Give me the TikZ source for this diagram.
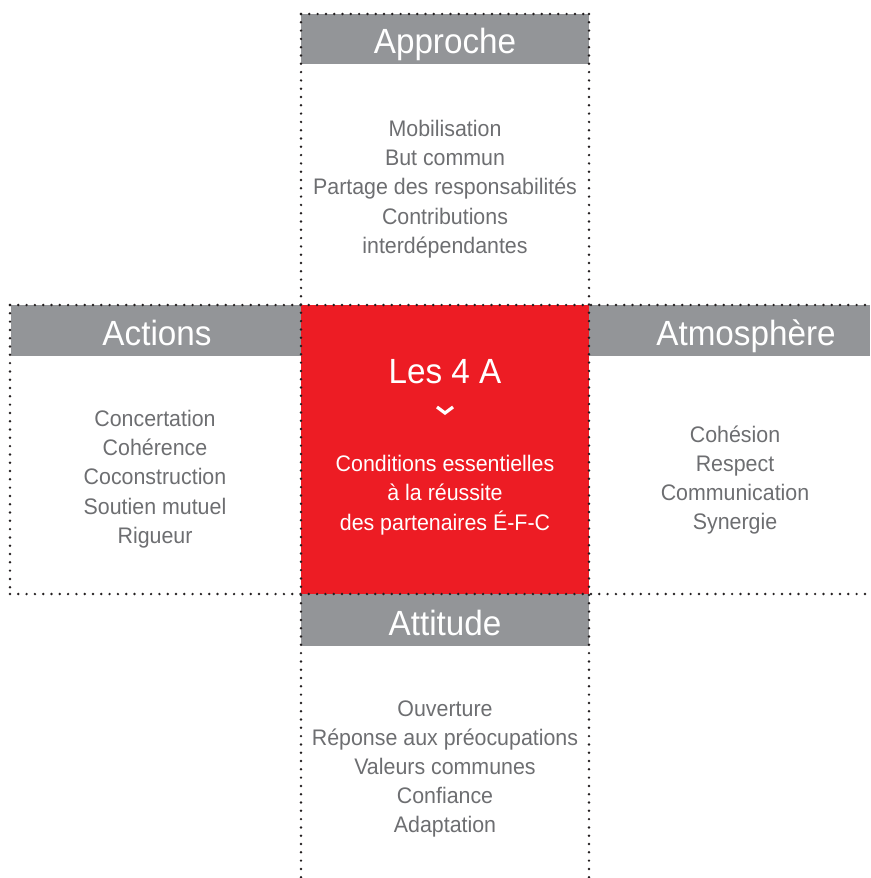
\documentclass[tikz,border=0pt]{standalone}
\usepackage{fontspec}
\setmainfont[FakeStretch=0.95]{Liberation Sans}
\definecolor{hdrgray}{HTML}{939598}
\definecolor{txtgray}{HTML}{6D6E71}
\definecolor{redsq}{HTML}{ED1C24}
\definecolor{dotcol}{HTML}{231F20}
\begin{document}
\begin{tikzpicture}[x=1pt,y=-1pt,
  dotline/.style={draw=dotcol,line width=2.7pt,line cap=round,dash pattern=on 0pt off 8.3pt},
  hdrtext/.style={text=white,font=\fontsize{35}{40}\selectfont,inner sep=0pt,anchor=base},
  bodytext/.style={text=txtgray,font=\fontsize{22.5}{29.2}\selectfont,align=center,inner sep=0pt},
  redtext/.style={text=white,font=\fontsize{22.5}{29.2}\selectfont,align=center,inner sep=0pt}]
\useasboundingbox (0,0) rectangle (870,878);
% fills
\fill[redsq] (301,305) rectangle (589,594);
\fill[hdrgray] (301,14) rectangle (589,64);
\fill[hdrgray] (11,305) rectangle (301,356);
\fill[hdrgray] (589,305) rectangle (870,356);
\fill[hdrgray] (301,594) rectangle (589,646);
% named corner coordinates
\coordinate (tl) at (301,14);
\coordinate (tr) at (589,14);
\coordinate (bl) at (301,878);
\coordinate (br) at (589,878);
\coordinate (ml1) at (10,305);
\coordinate (mr1) at (870,305);
\coordinate (ml2) at (10,594);
\coordinate (mr2) at (870,594);
% dotted lines
\draw[dotline] (tl) -- (tr);
\draw[dotline] (tl) -- (bl);
\draw[dotline] (tr) -- (br);
\draw[dotline] (ml1) -- (mr1);
\draw[dotline] (ml2) -- (mr2);
\draw[dotline] (ml1) -- (ml2);
% headers
\node[hdrtext] (happ) at (445,53) {Approche};
\node[hdrtext] (hact) at (157,345) {Actions};
\node[hdrtext] (hatm) at (746,345) {Atmosphère};
\node[hdrtext] (hatt) at (445,635) {Attitude};
% bodies
\node[bodytext] (bapp) at (445,189) {Mobilisation\\But commun\\Partage des responsabilités\\Contributions\\interdépendantes};
\node[bodytext] (bact) at (155,479) {Concertation\\Cohérence\\Coconstruction\\Soutien mutuel\\Rigueur};
\node[bodytext] (batm) at (735,480) {Cohésion\\Respect\\Communication\\Synergie};
\node[bodytext] (batt) at (445,769) {Ouverture\\Réponse aux préocupations\\Valeurs communes\\Confiance\\Adaptation};
% center
\node[text=white,font=\fontsize{35}{40}\selectfont,inner sep=0pt,anchor=base] (les) at (445,383) {Les 4 A};
\coordinate (cv1) at (437,407);
\coordinate (cv2) at (445,413);
\coordinate (cv3) at (453,407);
\draw[white,line width=3.2pt] (cv1) -- (cv2) -- (cv3);
\node[redtext] (cond) at (445,495) {Conditions essentielles\\à la réussite\\des partenaires É-F-C};
\end{tikzpicture}
\end{document}
